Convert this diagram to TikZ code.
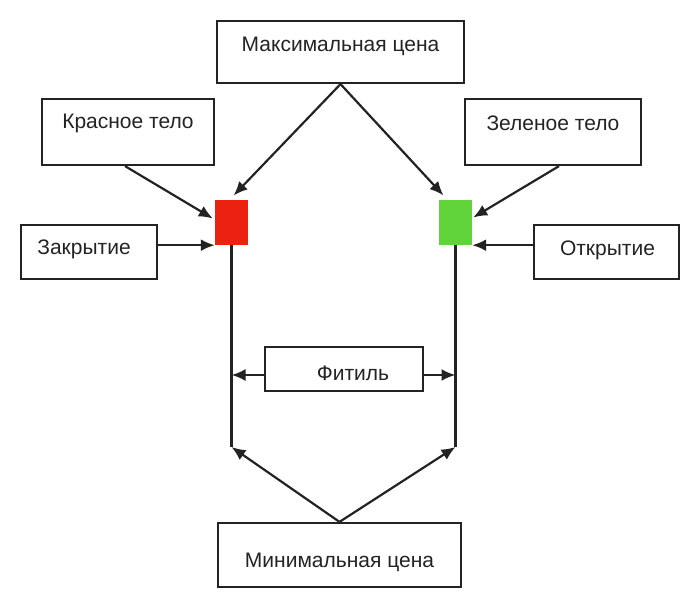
\documentclass[tikz,border=0pt]{standalone}
\usepackage{fontspec}
\setmainfont{Liberation Sans}
\usetikzlibrary{arrows.meta,positioning,calc}
\definecolor{candlered}{RGB}{236,34,16}
\definecolor{candlegreen}{RGB}{96,210,58}
\definecolor{linegray}{RGB}{35,35,35}

\begin{document}
\begin{tikzpicture}[x=1pt,y=-1pt,
    box/.style={draw=linegray, line width=2.2pt, inner sep=0pt},
    lbl/.style={font=\fontsize{21}{24}\selectfont, text=linegray, inner sep=0pt},
    candle/.style={minimum width=33pt, minimum height=45pt, inner sep=0pt},
    arr/.style={draw=linegray, line width=2.2pt, -{Latex[length=14pt,width=12pt]}},
    wick/.style={draw=linegray, line width=2.2pt}]
    \useasboundingbox (0,0) rectangle (696,601);

    % Price boxes
    \node[box, minimum width=247pt, minimum height=62pt] (maxp) at (340.5,52) {};
    \node[lbl] at ([yshift=6pt]maxp.center) {Максимальная цена};
    \node[box, minimum width=243pt, minimum height=64pt] (minp) at (339.5,555) {};
    \node[lbl] at ([yshift=-7pt]minp.center) {Минимальная цена};

    % Left side
    \node[box, minimum width=172pt, minimum height=66pt] (redbody) at (128,132) {};
    \node[lbl] at ([yshift=9pt]redbody.center) {Красное тело};
    \node[box, minimum width=136pt, minimum height=54pt] (closep) at (89,252) {};
    \node[lbl] at ([xshift=-5pt,yshift=3pt]closep.center) {Закрытие};

    % Right side
    \node[box, minimum width=176pt, minimum height=66pt] (greenbody) at (553,132) {};
    \node[lbl] at ([yshift=9pt]greenbody.center) {Зеленое тело};
    \node[box, minimum width=145pt, minimum height=54pt] (openp) at (606.5,252) {};
    \node[lbl] at ([xshift=1pt,yshift=2pt]openp.center) {Открытие};

    % Candles
    \node[candle, fill=candlered] (red) at (231.5,222.5) {};
    \node[candle, fill=candlegreen] (green) at (455.5,222.5) {};
    \coordinate (redlow) at (231.5,447);
    \coordinate (greenlow) at (455.5,447);
    \draw[wick] (red.south) -- (redlow);
    \draw[wick] (green.south) -- (greenlow);

    % Wick box
    \node[box, minimum width=158pt, minimum height=44pt] (wickbox) at (344,369) {};
    \node[lbl] at ([xshift=9pt,yshift=-4pt]wickbox.center) {Фитиль};

    % Arrows
    \draw[arr, shorten >=6pt] (maxp.south) -- ([xshift=-2pt]red.north);
    \draw[arr, shorten >=6pt] (maxp.south) -- ([xshift=-8pt]green.north);
    \draw[arr] ([xshift=-3pt]redbody.south) -- ([yshift=4pt,xshift=-2pt]red.west);
    \draw[arr] ([xshift=6pt]greenbody.south) -- ([yshift=5pt,xshift=1pt]green.east);
    \draw[arr] (closep.east |- red.south west) -- (red.south west);
    \draw[arr] (openp.west |- green.south east) -- (green.south east);
    \draw[arr] ([yshift=-6pt]wickbox.west) -- ([yshift=-6pt]wickbox.west -| redlow);
    \draw[arr] ([yshift=-6pt]wickbox.east) -- ([yshift=-6pt]wickbox.east -| greenlow);
    \draw[arr] (minp.north) -- (redlow);
    \draw[arr] (minp.north) -- (greenlow);
\end{tikzpicture}
\end{document}
